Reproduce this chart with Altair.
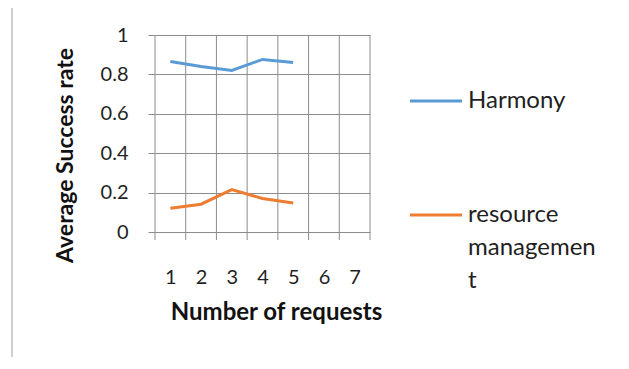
import altair as alt
import pandas as pd

categories = [1, 2, 3, 4, 5, 6, 7]
requests = [1, 2, 3, 4, 5]
harmony = [0.865, 0.84, 0.82, 0.876, 0.86]
resource_mgmt = [0.12, 0.141, 0.215, 0.17, 0.147]
series_names = ["Harmony", "resource management"]
legend_lines = [["Harmony"], ["resource", "managemen", "t"]]
colors = ["#5b9bd5", "#ed7d31"]
y_ticks = [0, 0.2, 0.4, 0.6, 0.8, 1]

FONT = "Lato"
W, H = 215, 197
GRID = "#8c8c8c"
LBL = 20

df = pd.DataFrame({
    "x": requests * 2,
    "value": harmony + resource_mgmt,
    "series": [series_names[0]] * len(requests) + [series_names[1]] * len(requests),
})
bounds = pd.DataFrame({"b": [c - 0.5 for c in categories] + [categories[-1] + 0.5]})

xscale = alt.Scale(domain=[categories[0] - 0.5, categories[-1] + 0.5], nice=False, zero=False)
yscale = alt.Scale(domain=[0, 1], nice=False)

xaxis = alt.Axis(values=categories, grid=False, ticks=False, domain=False,
                 labelOverlap=False, labelFlush=False,
                 labelPadding=45, labelBaseline="middle", labelFontSize=LBL,
                 title="Number of requests", titleFontSize=24, titleFontWeight="bold",
                 titleX=121, titleY=80, titleBaseline="middle", titleAlign="center")

vgrid = alt.Chart(bounds).mark_rule(color=GRID, strokeWidth=1).encode(
    x=alt.X("b:Q", scale=xscale, axis=xaxis),
    y=alt.value(0),
    y2=alt.value(H + 8),
)

lines = alt.Chart(df).mark_line(strokeWidth=3).encode(
    x=alt.X("x:Q", scale=xscale, axis=xaxis),
    y=alt.Y("value:Q", scale=yscale,
            axis=alt.Axis(values=y_ticks, format=".1~f", grid=True, gridColor=GRID,
                          tickColor=GRID, tickSize=7, domain=False, labelPadding=20,
                          labelFontSize=LBL, labelFlush=False, labelOverlap=False,
                          title="Average Success rate", titleFontSize=23, titleFontWeight="bold",
                          titleX=-90, titleY=120, titleAngle=270, titleBaseline="middle",
                          titleAlign="center")),
    color=alt.Color("series:N", scale=alt.Scale(domain=series_names, range=colors), legend=None),
    detail="series:N",
)

one = alt.Data(values=[{}])
legend_layers = []
lh = 33
for i, (name, lbl) in enumerate(zip(series_names, legend_lines)):
    yrow = 66 + 114 * i
    legend_layers.append(
        alt.Chart(one).mark_rule(color=colors[i], strokeWidth=3).encode(
            x=alt.value(255), x2=alt.value(307), y=alt.value(yrow)))
    legend_layers.append(
        alt.Chart(one).mark_text(text=lbl, align="left", baseline="middle", fontSize=24,
                                 font=FONT, lineHeight=lh, color="#1f1f1f").encode(
            x=alt.value(313), y=alt.value(yrow)))

border = [
    alt.Chart(one).mark_rule(color="#a0a0a0").encode(x=alt.value(-143), y=alt.value(-28), y2=alt.value(330)),
    alt.Chart(one).mark_rule(color="#a0a0a0").encode(x=alt.value(-143), x2=alt.value(472), y=alt.value(-28)),
]

chart = alt.layer(vgrid, lines, *legend_layers, *border).properties(
    width=W, height=H,
    autosize=alt.AutoSizeParams(type="none"),
    padding={"left": 147, "top": 27, "right": 250, "bottom": 125},
).configure(font=FONT).configure_view(stroke=None).configure_axis(
    labelColor="#1f1f1f", titleColor="#111111", labelFont=FONT, titleFont=FONT,
)

chart.save("out.html", embed_options={"renderer": "svg", "actions": False})
